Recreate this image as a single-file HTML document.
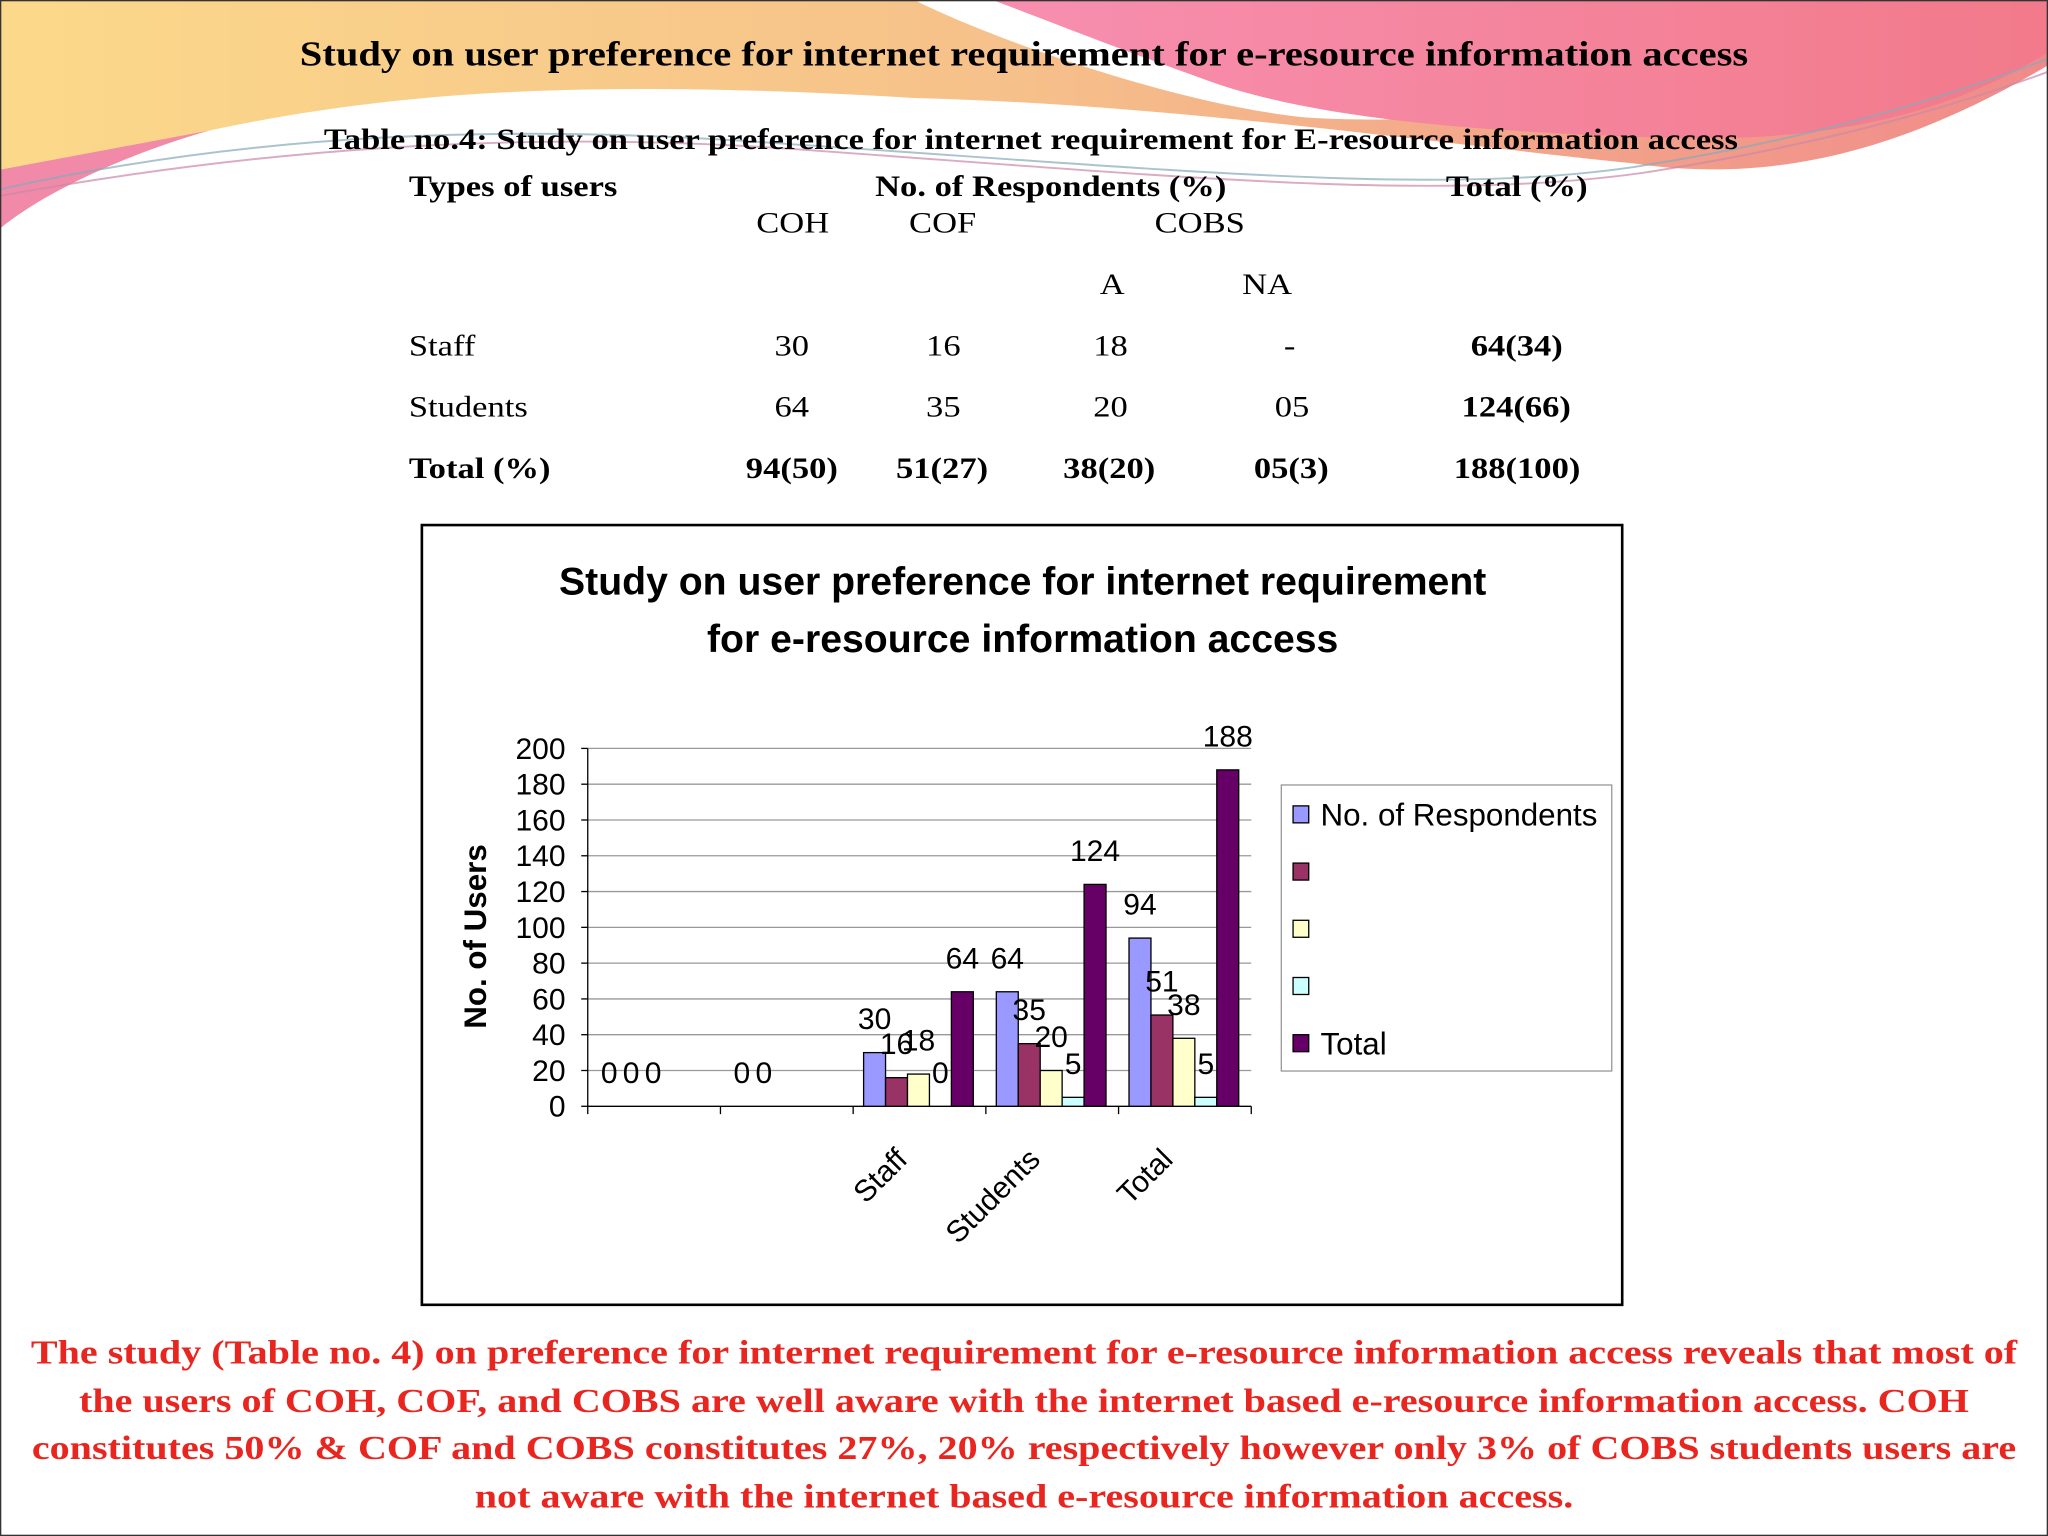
<!DOCTYPE html>
<html><head><meta charset="utf-8"><style>
html,body{margin:0;padding:0;width:2048px;height:1536px;overflow:hidden;background:#fff}
#wrap{position:absolute;left:0;top:0;width:1568px;height:1176px;transform:scale(1.306122);transform-origin:0 0;font-family:"Liberation Serif",serif}
.t{position:absolute;white-space:nowrap;transform:scaleX(1.15);transform-origin:0 0}
.c{transform-origin:50% 0}
.b{font-weight:bold}
</style></head><body>
<div id="wrap">
<svg width="1568" height="1176" style="position:absolute;left:0;top:0">
<defs>
<linearGradient id="g1" x1="0" y1="0" x2="1" y2="0"><stop offset="0" stop-color="#fbd98a"/><stop offset="0.5" stop-color="#f6c08a"/><stop offset="1" stop-color="#f08a8a"/></linearGradient>
<linearGradient id="g2" x1="0" y1="0" x2="1" y2="0"><stop offset="0" stop-color="#f78fb0"/><stop offset="1" stop-color="#f27a8a"/></linearGradient>
</defs>
<path d="M0,0 L700,0 C760,30 900,80 1000,90 C1150,100 1400,60 1568,30 L1568,50 C1450,120 1350,140 1250,125 C1100,110 900,80 700,75 C450,60 300,70 160,100 C90,120 30,150 0,175 Z" fill="url(#g1)"/>
<path d="M760,0 L1568,0 L1568,40 C1480,95 1380,110 1260,105 C1120,100 1000,90 920,60 C850,35 800,15 760,0 Z" fill="url(#g2)"/>
<path d="M0,175 C30,150 90,120 160,100 L0,130 Z" fill="#f08aa8"/>
<path d="M0,145 C200,100 400,95 600,110 C900,130 1100,150 1250,128 C1400,105 1500,70 1568,45" stroke="#8ab" stroke-width="1.5" fill="none" opacity="0.7"/>
<path d="M0,150 C220,110 420,100 620,115 C900,135 1100,155 1260,132 C1400,110 1500,80 1568,55" stroke="#c8a" stroke-width="1.5" fill="none" opacity="0.7"/>
<rect x="0.5" y="0.5" width="1567" height="1175" fill="none" stroke="#333" stroke-width="1"/>
</svg>
<div class="t b c" style="left:0;width:1568px;text-align:center;top:26px;font-size:27px">Study on user preference for internet requirement for e-resource information access</div>
<div class="t b" style="left:248px;top:94px;font-size:23px">Table no.4: Study on user preference for internet requirement for E-resource information access</div>
<div style="font-size:23px">
<div class="t b" style="left:313px;top:130px">Types of users</div>
<div class="t b" style="left:670px;top:130px">No. of Respondents (%)</div>
<div class="t b" style="left:1107px;top:130px">Total (%)</div>
<div class="t" style="left:579px;top:158px">COH</div>
<div class="t" style="left:696px;top:158px">COF</div>
<div class="t" style="left:884px;top:158px">COBS</div>
<div class="t" style="left:842px;top:205px">A</div>
<div class="t" style="left:951px;top:205px">NA</div>
<div class="t" style="left:313px;top:252px">Staff</div><div class="t" style="left:593px;top:252px">30</div><div class="t" style="left:709px;top:252px">16</div><div class="t" style="left:837px;top:252px">18</div><div class="t" style="left:983px;top:252px">-</div><div class="t b" style="left:1126px;top:252px">64(34)</div>
<div class="t" style="left:313px;top:299px">Students</div><div class="t" style="left:593px;top:299px">64</div><div class="t" style="left:709px;top:299px">35</div><div class="t" style="left:837px;top:299px">20</div><div class="t" style="left:976px;top:299px">05</div><div class="t b" style="left:1119px;top:299px">124(66)</div>
<div class="t b" style="left:313px;top:346px">Total (%)</div><div class="t b" style="left:571px;top:346px">94(50)</div><div class="t b" style="left:686px;top:346px">51(27)</div><div class="t b" style="left:814px;top:346px">38(20)</div><div class="t b" style="left:960px;top:346px">05(3)</div><div class="t b" style="left:1113px;top:346px">188(100)</div>
</div>
<svg id="chart" width="1568" height="1176" style="position:absolute;left:0;top:0;font-family:'Liberation Sans',sans-serif"></svg>
<div class="t b c" style="left:0;width:1568px;text-align:center;top:1018px;font-size:26px;color:#e8251f;line-height:36.5px;transform:scaleX(1.18)">The study (Table no. 4) on preference for internet requirement for e-resource information access reveals that most of<br>the users of COH, COF, and COBS are well aware with the internet based e-resource information access. COH<br>constitutes 50% &amp; COF and COBS constitutes 27%, 20% respectively however only 3% of COBS students users are<br>not aware with the internet based e-resource information access.</div>
</div>
<script>
const categories = ["", "", "Staff", "Students", "Total"];
const seriesNames = ["No. of Respondents", "", "", "", "Total"];
const sCOH = [0, 0, 30, 64, 94];
const sCOF = [0, 0, 16, 35, 51];
const sA = [0, null, 18, 20, 38];
const sNA = [null, null, 0, 5, 5];
const sTotal = [null, null, 64, 124, 188];
const yTicks = [0, 20, 40, 60, 80, 100, 120, 140, 160, 180, 200];
const series = [sCOH, sCOF, sA, sNA, sTotal];
const colors = ["#9999FF", "#993366", "#FFFFCC", "#CCFFFF", "#660066"];
const NS = "http://www.w3.org/2000/svg";
const svg = document.getElementById('chart');
function el(tag, attrs, parent) { const e = document.createElementNS(NS, tag); for (const k in attrs) e.setAttribute(k, attrs[k]); (parent || svg).appendChild(e); return e; }
const X0 = 450, X1 = 958, Y0 = 847, Y1 = 573;
const yS = v => Y0 - (v / 200) * (Y0 - Y1);
const cw = (X1 - X0) / categories.length;
const bw = 16.8, off = 8;
const box = el('rect', {x: 323, y: 402, width: 919, height: 597, fill: '#fff', stroke: '#000', 'stroke-width': 2});


const t1 = el('text', {x: 783, y: 455, 'text-anchor': 'middle', 'font-size': 30, 'font-weight': 'bold'}); t1.textContent = 'Study on user preference for internet requirement';


const t2 = el('text', {x: 783, y: 499, 'text-anchor': 'middle', 'font-size': 30, 'font-weight': 'bold'}); t2.textContent = 'for e-resource information access';


yTicks.forEach(v => {
  const y = yS(v);
  const g = el('line', {x1: X0, x2: X1, y1: y, y2: y, stroke: v === 0 ? '#000' : '#999', 'stroke-width': 1});
  
  
  el('line', {x1: X0 - 5, x2: X0, y1: y, y2: y, stroke: '#000'});
  const tl = el('text', {x: 433, y: y + 8, 'text-anchor': 'end', 'font-size': 23}); tl.textContent = v;
  
  
});
el('line', {x1: X0, x2: X0, y1: Y1, y2: Y0 + 6, stroke: '#000'});
const yt = el('text', {transform: 'translate(372,717) rotate(-90)', 'text-anchor': 'middle', 'font-size': 24, 'font-weight': 'bold'}); yt.textContent = 'No. of Users';


categories.forEach((c, i) => {
  const tx = X0 + cw * (i + 1);
  el('line', {x1: tx, x2: tx, y1: Y0, y2: Y0 + 6, stroke: '#000'});
  if (c) {
    const cx = X0 + cw * (i + 0.5) - 8;
    const lab = el('text', {transform: `translate(${cx},${Y0 + 42}) rotate(-45)`, 'text-anchor': 'end', 'font-size': 23}); lab.textContent = c;
    
    
  }
  series.forEach((s, j) => {
    const v = s[i];
    if (v === null) return;
    const x = X0 + cw * i + off + j * bw;
    if (v > 0) {
      const r = el('rect', {x: x, y: yS(v), width: bw, height: Y0 - yS(v), fill: colors[j], stroke: '#000', 'stroke-width': 1});
      
      
    }
    const dl = el('text', {x: x + bw / 2, y: yS(v) - 18, 'text-anchor': 'middle', 'font-size': 23}); dl.textContent = v;
    
    
  });
});
const lg = el('rect', {x: 981, y: 601, width: 253, height: 219, fill: '#fff', stroke: '#999'});


seriesNames.forEach((n, j) => {
  const y = 624 + j * 43.8;
  const sw = el('rect', {x: 990, y: y - 7, width: 12, height: 13, fill: colors[j], stroke: '#000'});
  
  
  const lt = el('text', {x: 1011, y: y + 8, 'font-size': 24}); lt.textContent = n;
  
  
});
</script>
</body></html>
